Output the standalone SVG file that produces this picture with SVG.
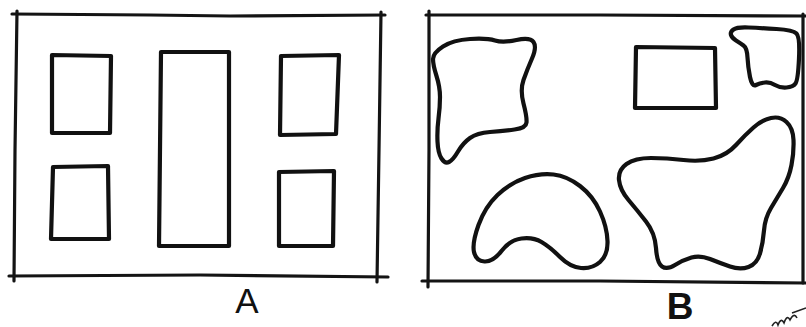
<svg xmlns="http://www.w3.org/2000/svg" width="806" height="327" viewBox="0 0 806 327">
<style>
.frame{fill:none;stroke:#141414;stroke-width:3.2;stroke-linecap:round}
.box{fill:none;stroke:#111;stroke-width:4.2;stroke-linejoin:round}
.blob{fill:none;stroke:#111;stroke-width:4.2;stroke-linejoin:round}
.lbl{font-family:"Liberation Sans",Arial,sans-serif;fill:#111;text-anchor:middle}
</style>
<rect width="806" height="327" fill="#fff"/>
<g id="panelA">
  <g id="frameA">
    <path class="frame" d="M12,14 L150,15 L230,16 L385,15"/>
    <path class="frame" d="M17,11 L15,150 L14,281"/>
    <path class="frame" d="M381,12 L379,150 L377,282"/>
    <path class="frame" d="M9,276 L200,275 L388,277"/>
  </g>
  <g id="A_topLeft"><polygon class="box" points="52,55 111,56 110,133 52,133"/></g>
  <g id="A_bottomLeft"><polygon class="box" points="53,167 108,166 109,239 51,239"/></g>
  <g id="A_middle"><polygon class="box" points="161,52 229,52 229,246 159,246"/></g>
  <g id="A_topRight"><polygon class="box" points="281,56 339,55 336,134 280,135"/></g>
  <g id="A_bottomRight"><polygon class="box" points="279,172 334,171 333,246 279,246"/></g>
  <text class="lbl" x="247" y="313" font-size="35">A</text>
</g>
<g id="panelB">
  <g id="frameB">
    <path class="frame" d="M426,15 L600,15 L806,16"/>
    <path class="frame" d="M429,11 L429,150 L428,287"/>
    <path class="frame" d="M803,14 L803,283"/>
    <path class="frame" d="M422,281 L600,281 L806,283"/>
  </g>
  <g id="B_blobTopLeft"><path class="blob" d="M443,46.5 Q453,40 470,39 Q487,38 495,40.5 Q503,43 516.5,40 Q530,37 533.5,42 Q537,47 532,58.5 Q527,70 523.5,80 Q520,90 523.5,103.5 Q527,117 526.5,122.5 Q526,128 514.5,129.5 Q503,131 490,132 Q477,133 470,138 Q463,143 458,151.5 Q453,160 449,162 Q445,164 441.5,158.5 Q438,153 437.5,141.5 Q437,130 438.5,118.5 Q440,107 440,97 Q440,87 436.5,76 Q433,65 433,59 Q433,53 443,46.5 Z"/></g>
  <g id="B_rect"><polygon class="box" points="636,47 715,48 716,108 635,108"/></g>
  <g id="B_blobTopRight"><path class="blob" d="M731,35 Q730,32 733.5,29.5 Q737,27 748.5,27.5 Q760,28 776.5,29 Q793,30 796.5,33.5 Q800,37 799,58.5 Q798,80 795.5,83.5 Q793,87 786.5,87.5 Q780,88 775,85 Q770,82 765,82.5 Q760,83 756,85 Q752,87 750,77 Q748,67 747.5,57.5 Q747,48 743.5,45.5 Q740,43 736,40.5 Q732,38 731,35 Z"/></g>
  <g id="B_blobArch"><path class="blob" d="M525,178 Q540,173 553.5,174.5 Q567,176 580,186 Q593,196 600,211.5 Q607,227 607.5,241 Q608,255 600,262 Q592,269 581,268 Q570,267 560,257 Q550,247 541.5,242 Q533,237 521.5,238.5 Q510,240 501.5,251 Q493,262 484.5,261.5 Q476,261 474,252 Q472,243 478.5,225 Q485,207 497.5,195 Q510,183 525,178 Z"/></g>
  <g id="B_blobLarge"><path class="blob" d="M619,180 Q618,170 626.5,164 Q635,158 651,158 Q667,158 683.5,160 Q700,162 713.5,158.5 Q727,155 736,145 Q745,135 753.5,127.5 Q762,120 771,118 Q780,116 786.5,122 Q793,128 793.5,140 Q794,152 791.5,165 Q789,178 783,188 Q777,198 771,208 Q765,218 764,230.5 Q763,243 760,253.5 Q757,264 748.5,267 Q740,270 730,266.5 Q720,263 710,259 Q700,255 691.5,257.5 Q683,260 675,265 Q667,270 662,266.5 Q657,263 656,248 Q655,233 646,221.5 Q637,210 628.5,200 Q620,190 619,180 Z"/></g>
  <text class="lbl" x="680" y="319" font-size="37" font-weight="bold">B</text>
  <path d="M772,326 Q776,319 778,325 Q781,317 784,323 Q787,314 790,320 Q794,312 797,318 M792,313 L806,308" fill="none" stroke="#222" stroke-width="1.6"/>
</g>
</svg>
